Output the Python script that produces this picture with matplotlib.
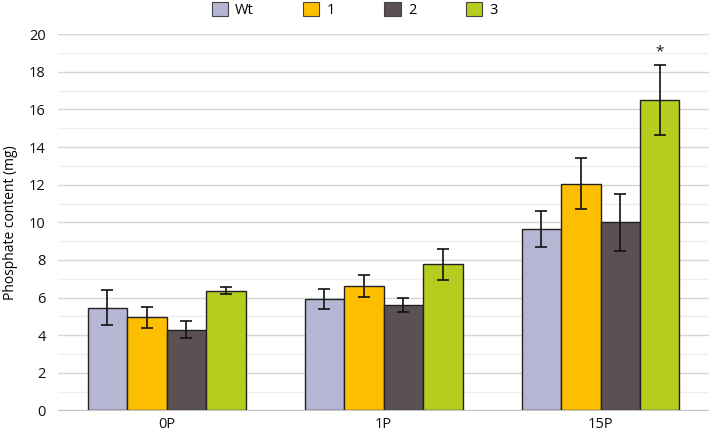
import matplotlib.pyplot as plt
import numpy as np
from matplotlib.patches import Patch

plt.rcParams['font.family'] = ['Open Sans', 'DejaVu Sans']

# data
groups = ['0P', '1P', '15P']
series = ['Wt', '1', '2', '3']
values = {
    'Wt': [5.47, 5.93, 9.64],
    '1':  [4.96, 6.60, 12.06],
    '2':  [4.30, 5.60, 10.01],
    '3':  [6.36, 7.78, 16.48],
}
errors = {
    'Wt': [0.91, 0.55, 0.95],
    '1':  [0.55, 0.58, 1.36],
    '2':  [0.46, 0.37, 1.52],
    '3':  [0.18, 0.82, 1.86],
}
colors = ['#b4b6d4', '#fdbf00', '#5b5153', '#b6cc1e']
star_group, star_series = 2, '3'

fig = plt.figure(figsize=(7.09, 4.36), dpi=100)
ax = fig.add_axes([0.082, 0.0585, 0.918, 0.863])

x = np.arange(len(groups))
width = 0.182
for i, (s, c) in enumerate(zip(series, colors)):
    pos = x + (i - 1.5) * width
    ax.bar(pos, values[s], width, color=c, edgecolor='#222222', linewidth=1.0, zorder=3)
    ax.errorbar(pos, values[s], yerr=errors[s], fmt='none', ecolor='#111111',
                elinewidth=1.2, capsize=4, capthick=1.2, zorder=4)

# significance marker
sx = x[star_group] + 1.5 * width
sy = values[star_series][star_group] + errors[star_series][star_group]
ax.text(sx, sy + 0.3, '*', ha='center', va='bottom', fontsize=11, color='#111111')

ax.set_xlim(-0.5, 2.5)
ax.set_ylim(0, 20)
ax.set_yticks(np.arange(0, 21, 2))
ax.set_yticks(np.arange(1, 20, 2), minor=True)
ax.set_xticks(x)
ax.set_xticklabels(groups)
ax.tick_params(axis='both', length=0, labelsize=10.5, colors='#111111')
ax.tick_params(axis='y', which='minor', length=0)
ax.tick_params(axis='y', pad=9)
ax.tick_params(axis='x', pad=5)
ax.grid(axis='y', which='major', color='#d6d6d6', linewidth=1.0, zorder=0)
ax.grid(axis='y', which='minor', color='#efefef', linewidth=1.0, zorder=0)
for sp in ['top', 'right', 'left']:
    ax.spines[sp].set_visible(False)
ax.spines['bottom'].set_color('#c8c8c8')
ax.spines['bottom'].set_zorder(2)
ax.set_ylabel('Phosphate content (mg)', fontsize=10, labelpad=8)

handles = [Patch(facecolor=c, edgecolor='#444444', linewidth=0.8) for c in colors]
fig.legend(handles, series, loc='upper center', bbox_to_anchor=(0.5, 1.025), ncol=4,
           frameon=False, fontsize=10.5, handlelength=1.1, handleheight=1.1,
           handletextpad=0.5, columnspacing=3.4)

plt.savefig('out.png', dpi=100)
plt.close()
